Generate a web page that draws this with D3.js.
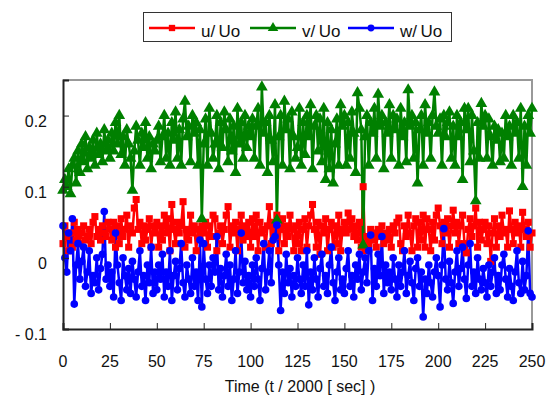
<html>
<head>
<meta charset="utf-8">
<script src="https://d3js.org/d3.v7.min.js"></script>
<style>
  body { margin: 0; background: #fff; }
  text { font-family: "Liberation Sans", Arial, sans-serif; fill: #111; }
</style>
</head>
<body>
<div id="chart"></div>
<script>
  // series names
  let seriesNames = ["u/\u2009Uo", "v/\u2009Uo", "w/\u2009Uo"];
  let xTicks = [0, 25, 50, 75, 100, 125, 150, 175, 200, 225, 250];
  let yTicks = [-0.1, 0, 0.1, 0.2];

  // u/Uo, t = 0..250
  let uValues = [
    0.02,0.045,0.03,0.01,0.035,0.015,0.05,0.025,0.04,0.02,0.035,0.045,0.025,0.03,0.04,0.02,0.05,0.058,0.03,0.04,0.025,0.045,0.035,0.03,0.05,
    0.04,0.025,0.05,0.015,0.045,0.02,0.055,0.03,0.04,0.06,0.015,0.045,0.035,0.07,0.082,0.04,0.05,0.02,0.045,0.025,0.04,0.055,0.015,0.045,0.035,
    0.05,0.015,0.045,0.025,0.06,0.035,0.055,0.01,0.075,0.04,0.02,0.05,0.035,0.045,0.079,0.015,0.04,0.025,0.06,0.035,0.045,0.01,0.04,0.03,0.045,
    0.035,0.05,0.015,0.045,0.03,0.06,0.055,0.01,0.035,0.045,0.02,0.04,0.06,0.072,0.015,0.045,0.035,0.05,0.01,0.04,0.06,0.025,0.045,0.03,0.05,
    0.015,0.055,0.03,0.06,0.01,0.05,0.035,0.04,0.015,0.045,0.072,0.02,0.05,0.03,0.06,0.01,0.04,0.055,0.02,0.045,0.03,0.06,0.04,0.01,0.045,
    0.02,0.05,0.01,0.04,0.055,0.015,0.045,0.06,0.075,0.04,0.015,0.05,0.005,0.045,0.035,0.055,0.01,0.04,0.05,0.015,0.045,0.02,0.06,0.01,0.04,
    0.05,0.035,0.063,0.04,0.055,0.03,0.045,0.025,0.05,0.015,0.1,0.01,0.03,0.02,0.04,0.025,0.035,0.015,0.04,0.03,0.045,0.02,0.035,0.025,0.04,
    0.015,0.045,0.035,0.05,0.056,0.02,0.01,0.045,0.03,0.06,0.035,0.01,0.045,0.055,0.015,0.05,0.025,0.06,0.015,0.055,0.04,0.01,0.05,0.025,0.06,
    0.07,0.045,0.02,0.05,0.035,0.055,0.015,0.045,0.067,0.035,0.05,0.02,0.045,0.06,0.02,0.007,0.04,0.055,0.03,0.045,0.07,0.015,0.05,0.025,0.04,
    0.05,0.02,0.045,-0.005,0.035,0.055,0.015,0.045,0.03,0.06,0.035,0.04,0.015,0.066,0.04,0.02,0.05,0.035,0.045,0.015,0.064,0.04,0.03,0.05,0.015,0.035
  ];

  // v/Uo
  let vValues = [
    0.095,0.11,0.10,0.125,0.09,0.13,0.14,0.105,0.15,0.12,0.16,0.135,0.17,0.125,0.155,0.14,0.165,0.13,0.175,0.145,0.16,0.135,0.18,0.15,0.165,
    0.14,0.175,0.15,0.19,0.16,0.2,0.145,0.17,0.13,0.18,0.16,0.14,0.095,0.15,0.185,0.165,0.13,0.175,0.155,0.19,0.14,0.17,0.125,0.16,0.15,
    0.165,0.185,0.135,0.17,0.2,0.14,0.175,0.13,0.19,0.165,0.205,0.14,0.18,0.13,0.195,0.22,0.17,0.185,0.135,0.2,0.175,0.19,0.13,0.18,0.055,
    0.16,0.195,0.13,0.21,0.175,0.14,0.16,0.2,0.125,0.19,0.155,0.205,0.18,0.135,0.195,0.15,0.185,0.12,0.21,0.16,0.19,0.14,0.2,0.155,0.185,
    0.17,0.195,0.14,0.185,0.21,0.13,0.24,0.175,0.19,0.12,0.2,0.165,0.135,0.215,0.053,0.17,0.2,0.13,0.22,0.18,0.195,0.125,0.205,0.17,0.14,
    0.155,0.21,0.13,0.19,0.145,0.2,0.17,0.215,0.125,0.185,0.2,0.15,0.195,0.135,0.21,0.11,0.19,0.125,0.18,0.105,0.16,0.195,0.13,0.215,0.185,
    0.2,0.13,0.19,0.14,0.205,0.175,0.12,0.232,0.21,0.18,0.018,0.17,0.2,0.13,0.19,0.175,0.21,0.14,0.23,0.185,0.2,0.125,0.19,0.175,0.215,
    0.14,0.2,0.18,0.195,0.13,0.21,0.17,0.19,0.135,0.236,0.185,0.2,0.14,0.19,0.105,0.18,0.2,0.13,0.215,0.175,0.19,0.14,0.2,0.233,0.185,
    0.175,0.195,0.13,0.2,0.17,0.19,0.205,0.14,0.185,0.13,0.2,0.17,0.19,0.11,0.21,0.18,0.21,0.135,0.2,0.15,0.08,0.19,0.14,0.217,0.185,
    0.2,0.14,0.195,0.17,0.13,0.185,0.165,0.18,0.135,0.175,0.14,0.2,0.17,0.185,0.13,0.2,0.175,0.19,0.14,0.21,0.1,0.185,0.13,0.2,0.175,0.21
  ];

  // w/Uo
  let wValues = [
    0.045,0.0,-0.02,0.035,0.01,0.055,-0.065,-0.01,0.02,-0.03,-0.005,0.015,-0.04,-0.02,0.01,-0.05,-0.025,-0.035,0.0,-0.045,-0.015,0.005,0.065,-0.03,-0.01,
    -0.04,-0.02,-0.055,0.035,-0.01,-0.035,-0.06,0.0,-0.025,-0.045,-0.015,-0.05,-0.005,-0.03,-0.055,-0.02,0.01,-0.04,-0.025,-0.06,-0.01,-0.035,0.015,-0.05,-0.02,
    -0.045,-0.01,-0.03,0.005,-0.055,-0.02,-0.04,0.01,-0.06,-0.025,-0.005,-0.045,-0.015,0.02,-0.035,-0.055,-0.01,-0.03,-0.05,0.0,-0.04,-0.02,-0.06,0.025,-0.069,
    0.02,-0.03,-0.05,-0.01,-0.04,0.0,-0.02,0.03,-0.045,-0.015,-0.055,-0.025,0.005,-0.04,-0.01,-0.06,-0.03,0.01,-0.05,-0.02,0.035,-0.035,-0.005,-0.045,-0.025,
    -0.055,-0.01,-0.04,0.0,-0.03,-0.06,-0.015,0.02,-0.045,-0.02,0.01,-0.035,0.025,0.03,0.046,-0.01,-0.074,-0.02,-0.05,0.005,-0.035,-0.015,-0.055,-0.025,-0.04,
    0.0,-0.03,-0.05,-0.01,-0.04,0.01,-0.066,-0.02,-0.045,0.0,-0.03,-0.055,-0.015,0.005,-0.04,-0.025,-0.05,-0.01,0.015,-0.035,-0.06,-0.02,0.0,-0.045,-0.03,
    -0.05,-0.015,0.01,-0.04,-0.025,-0.055,-0.01,-0.03,0.005,-0.045,-0.02,0.0,-0.035,0.01,0.032,-0.06,-0.015,-0.04,0.005,-0.025,0.03,-0.05,-0.01,-0.035,-0.02,
    -0.045,0.0,-0.03,-0.055,-0.01,-0.04,-0.02,0.01,-0.05,-0.025,-0.005,-0.035,-0.06,-0.015,0.0,-0.04,-0.02,-0.083,-0.03,-0.05,-0.01,-0.035,-0.055,-0.02,0.0,
    -0.025,-0.069,-0.01,0.041,-0.03,-0.045,-0.005,-0.035,-0.064,-0.02,0.01,-0.04,-0.015,0.015,-0.03,-0.057,-0.01,0.02,-0.04,-0.02,-0.05,0.0,-0.03,-0.045,-0.015,
    -0.035,-0.055,-0.01,-0.04,-0.02,0.0,-0.05,-0.025,-0.045,-0.01,0.005,-0.03,-0.055,-0.015,-0.04,-0.06,-0.02,0.01,-0.035,-0.05,-0.005,-0.045,-0.025,0.038,-0.05,-0.055
  ];

  let colors = ["#ff0000", "#008000", "#0000ff"];
  let symbols = [d3.symbolSquare, d3.symbolTriangle, d3.symbolCircle];
  let symbolSizes = [50, 60, 46];

  let width = 549, height = 400;
  let margin = {left: 63, right: 17, top: 80, bottom: 71};

  let svg = d3.select("#chart").append("svg")
    .attr("width", width)
    .attr("height", height);

  let x = d3.scaleLinear().domain([0, 250]).range([margin.left, width - margin.right]);
  let y = d3.scaleLinear().domain([-0.1, 0.25]).range([height - margin.bottom, margin.top]);

  // plot frame (top / right grey)
  svg.append("path")
    .attr("d", `M${x(0)},${y(0.25)}H${x(250)}V${y(-0.1)}`)
    .attr("fill", "none")
    .attr("stroke", "#999")
    .attr("stroke-width", 2);

  let allSeries = [uValues, vValues, wValues].map((vals, k) => ({
    name: seriesNames[k], color: colors[k], symbol: symbols[k], size: symbolSizes[k],
    points: vals.map((v, i) => [i, v])
  }));

  let line = d3.line().x(d => x(d[0])).y(d => y(d[1]));

  // lines first, markers after (like the spreadsheet draws them)
  svg.append("g").selectAll("path")
    .data(allSeries).enter().append("path")
      .attr("d", s => line(s.points))
      .attr("fill", "none")
      .attr("stroke", s => s.color)
      .attr("stroke-width", 2.5)
      .attr("stroke-linejoin", "round");

  allSeries.forEach(s => {
    svg.append("g").selectAll("path")
      .data(s.points).enter().append("path")
        .attr("transform", d => `translate(${x(d[0])},${y(d[1])})`)
        .attr("d", d3.symbol().type(s.symbol).size(s.size))
        .attr("fill", s.color);
  });

  // axes
  let xAxis = svg.append("g")
    .attr("transform", `translate(0,${y(-0.1)})`)
    .call(d3.axisBottom(x).tickValues(xTicks).tickSize(-6).tickFormat(""));
  xAxis.select(".domain").attr("stroke", "#222").attr("stroke-width", 2);
  xAxis.selectAll(".tick line").attr("stroke", "#222");

  let yAxis = svg.append("g")
    .attr("transform", `translate(${x(0)},0)`)
    .call(d3.axisLeft(y).tickValues(yTicks).tickSize(-6).tickFormat(""));
  yAxis.select(".domain").attr("stroke", "#222").attr("stroke-width", 2);
  yAxis.selectAll(".tick line").attr("stroke", "#222");

  // tick labels
  svg.append("g").selectAll("text")
    .data(xTicks).enter().append("text")
      .attr("x", d => x(d))
      .attr("y", 367)
      .attr("text-anchor", "middle")
      .style("font-size", "16px")
      .text(d => d);

  svg.append("g").selectAll("text")
    .data(yTicks).enter().append("text")
      .attr("x", 47)
      .attr("y", d => y(d) + 11)
      .attr("text-anchor", "end")
      .style("font-size", "16px")
      .text(d => d < 0 ? "- " + Math.abs(d) : d);

  svg.append("text")
    .attr("x", 300)
    .attr("y", 392)
    .attr("text-anchor", "middle")
    .style("font-size", "16px")
    .text("Time (t /  2000 [ sec] )");

  // legend
  let legend = svg.append("g");
  legend.append("rect")
    .attr("x", 143.5).attr("y", 12.5)
    .attr("width", 308).attr("height", 29)
    .attr("fill", "#fff").attr("stroke", "#333");

  let legendX = [149, 250, 348];
  allSeries.forEach((s, k) => {
    let g = legend.append("g").attr("transform", `translate(${legendX[k]},28)`);
    g.append("line").attr("x1", 0).attr("x2", 46)
      .attr("stroke", s.color).attr("stroke-width", 2.5);
    g.append("path").attr("transform", "translate(23,0)")
      .attr("d", d3.symbol().type(s.symbol).size(s.size * 0.8))
      .attr("fill", s.color);
    g.append("text").attr("x", 52).attr("y", 9)
      .style("font-size", "17px")
      .text(s.name);
  });
</script>
</body>
</html>
